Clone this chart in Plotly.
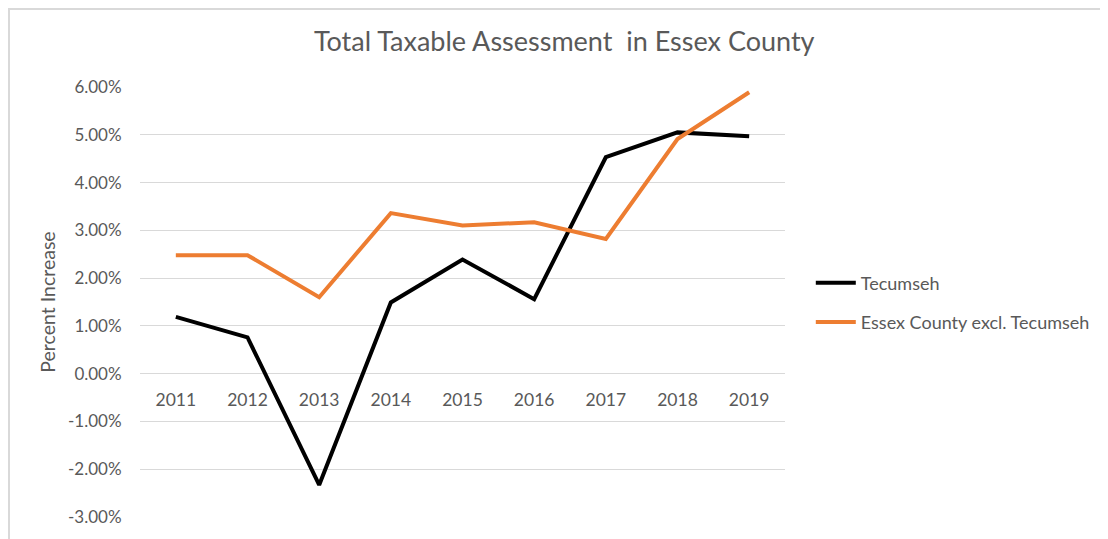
import plotly.graph_objects as go

years = ["2011", "2012", "2013", "2014", "2015", "2016", "2017", "2018", "2019"]
tecumseh = [1.19, 0.76, -2.33, 1.49, 2.39, 1.56, 4.53, 5.05, 4.97]
essex_excl = [2.48, 2.48, 1.60, 3.36, 3.10, 3.17, 2.82, 4.91, 5.89]
y_ticks = [-3, -2, -1, 0, 1, 2, 3, 4, 5, 6]
y_tick_labels = [f"{v:.2f}%" for v in y_ticks]

FONT = "Lato"
GREY = "#595959"

fig = go.Figure()
fig.add_trace(go.Scatter(x=years, y=tecumseh, mode="lines", name="Tecumseh",
                         legendgroup="a",
                         line=dict(color="#000000", width=4)))
fig.add_trace(go.Scatter(x=years, y=essex_excl, mode="lines", name="Essex County excl. Tecumseh",
                         legendgroup="b",
                         line=dict(color="#ED7D31", width=4)))

# page has an 8px body margin; margins compensate so the plot sits at page px 140..785 x 87..517
fig.update_layout(
    width=1108, height=539,
    margin=dict(l=132, r=331, t=79, b=30),
    paper_bgcolor="white", plot_bgcolor="white",
    font=dict(family=FONT, color=GREY, size=17),
    title=dict(text="Total Taxable Assessment  in Essex County", x=0.502, xanchor="center",
               y=0.937, yanchor="middle", font=dict(family=FONT, size=27, color=GREY)),
    showlegend=True,
    legend=dict(x=1.04, y=0.499, xanchor="left", yanchor="middle",
                font=dict(family=FONT, size=18, color=GREY),
                tracegroupgap=13, itemwidth=40, bgcolor="rgba(0,0,0,0)"),
    xaxis=dict(type="category", range=[-0.5, 8.5], anchor="free", position=1/3,
               showgrid=False, zeroline=False, showline=False,
               ticks="outside", ticklen=10, tickcolor="rgba(0,0,0,0)",
               tickfont=dict(family=FONT, size=17.5, color=GREY)),
    yaxis=dict(range=[-3, 6], tickvals=y_ticks, ticktext=y_tick_labels,
               showgrid=True, gridcolor="#D9D9D9", gridwidth=1,
               zeroline=False, showline=False,
               ticks="outside", ticklen=14, tickcolor="rgba(0,0,0,0)",
               tickfont=dict(family=FONT, size=17, color=GREY),
               title=dict(text="Percent Increase", font=dict(family=FONT, size=19.5, color=GREY),
                          standoff=7)),
)

# chart frame
fig.add_shape(type="rect", xref="paper", yref="paper",
              x0=(9 - 140) / 645, x1=(1125 - 140) / 645,
              y0=(517 - 560) / 430, y1=(517 - 9) / 430,
              line=dict(color="#D9D9D9", width=2), fillcolor="rgba(0,0,0,0)", layer="below")

fig.write_html("out.html")
